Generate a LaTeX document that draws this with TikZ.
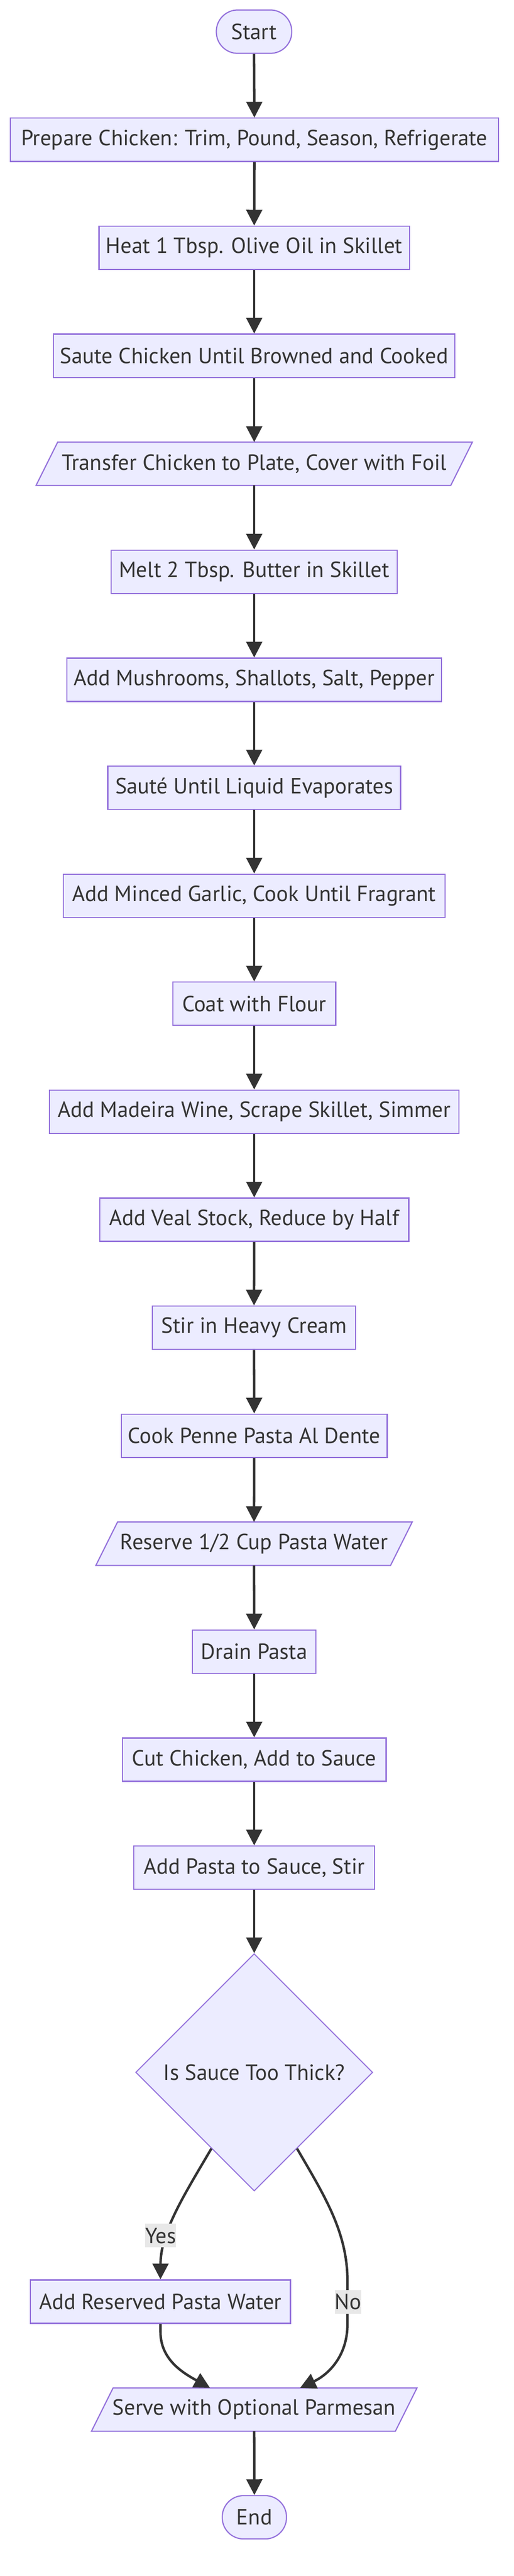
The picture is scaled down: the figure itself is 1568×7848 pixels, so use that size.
\documentclass[tikz,border=0pt]{standalone}
\usepackage{fontspec}
\setmainfont{PT Sans}
\usetikzlibrary{arrows.meta,shapes.geometric,calc}
\definecolor{nodefill}{HTML}{ECECFF}
\definecolor{nodeline}{HTML}{9370DB}
\definecolor{edgecol}{HTML}{333333}
\definecolor{txtcol}{HTML}{333333}
\definecolor{lblfill}{HTML}{E8E8E8}
\tikzset{
  stepbox/.style={draw=nodeline, fill=nodefill, line width=3.5pt, minimum height=132pt, inner sep=0pt, text=txtcol},
  pill/.style={stepbox, rounded corners=65pt},
  paraline/.style={draw=nodeline, fill=nodefill, line width=3.5pt},
  paratext/.style={minimum height=132pt, inner sep=0pt, text=txtcol},
  decision/.style={diamond, aspect=1, draw=nodeline, fill=nodefill, line width=3pt, minimum width=723pt, minimum height=723pt, inner sep=0pt, text=txtcol},
  edge/.style={draw=edgecol, line width=7.5pt, -{Triangle[length=48pt,width=48pt]}},
  lbl/.style={fill=lblfill, inner sep=0pt, text=txtcol, minimum height=72pt},
}
\newcommand\parabox[5]{%
  \path[paraline] ({#2-#4/2+33},{#3-66}) -- ({#2+#4/2+33},{#3-66}) -- ({#2+#4/2-33},{#3+66}) -- ({#2-#4/2-33},{#3+66}) -- cycle;
  \node[paratext, minimum width=#4pt] (#1) at (#2,#3) {#5};
}
\begin{document}
\begin{tikzpicture}[x=1pt, y=-1pt, font=\fontsize{67}{80}\selectfont]
\useasboundingbox[fill=white] (0,0) rectangle (1568,7848);
\node[pill, minimum width=230pt] (start) at (775,96.5) {Start};
\node[stepbox, minimum width=1490pt] (prep) at (776,426) {Prepare Chicken: Trim, Pound, Season, Refrigerate};
\node[stepbox, minimum width=947pt] (heat) at (775.5,755) {Heat 1 Tbsp. Olive Oil in Skillet};
\node[stepbox, minimum width=1225pt] (saute) at (775.5,1084) {Saute Chicken Until Browned and Cooked};
\parabox{transfer}{775.5}{1413}{1265}{Transfer Chicken to Plate, Cover with Foil}
\node[stepbox, minimum width=873pt] (melt) at (775.5,1742) {Melt 2 Tbsp. Butter in Skillet};
\node[stepbox, minimum width=1143pt] (mush) at (775.5,2071) {Add Mushrooms, Shallots, Salt, Pepper};
\node[stepbox, minimum width=893pt] (evap) at (775.5,2400) {Sauté Until Liquid Evaporates};
\node[stepbox, minimum width=1165pt] (garlic) at (775.5,2729) {Add Minced Garlic, Cook Until Fragrant};
\node[stepbox, minimum width=497pt] (flour) at (775.5,3058) {Coat with Flour};
\node[stepbox, minimum width=1249pt] (wine) at (775.5,3387) {Add Madeira Wine, Scrape Skillet, Simmer};
\node[stepbox, minimum width=943pt] (veal) at (775.5,3716) {Add Veal Stock, Reduce by Half};
\node[stepbox, minimum width=620pt] (cream) at (775,4045) {Stir in Heavy Cream};
\node[stepbox, minimum width=811pt] (penne) at (775.5,4374) {Cook Penne Pasta Al Dente};
\parabox{reserve}{775}{4703}{899}{Reserve 1/2 Cup Pasta Water}
\node[stepbox, minimum width=377pt] (drain) at (775.5,5032) {Drain Pasta};
\node[stepbox, minimum width=805pt] (cut) at (775.5,5361) {Cut Chicken, Add to Sauce};
\node[stepbox, minimum width=735pt] (addpasta) at (775.5,5690) {Add Pasta to Sauce, Stir};
\node[decision] (dia) at (775.5,6313.5) {Is Sauce Too Thick?};
\node[stepbox, minimum width=793pt] (water) at (489.5,7012) {Add Reserved Pasta Water};
\parabox{serve}{775.5}{7341}{927}{Serve with Optional Parmesan}
\node[pill, minimum width=196pt] (end) at (776,7669) {End};

\draw[edge] (start.south) -- (prep.north);
\draw[edge] (prep.south) -- (heat.north);
\draw[edge] (heat.south) -- (saute.north);
\draw[edge] (saute.south) -- (transfer.north);
\draw[edge] (transfer.south) -- (melt.north);
\draw[edge] (melt.south) -- (mush.north);
\draw[edge] (mush.south) -- (evap.north);
\draw[edge] (evap.south) -- (garlic.north);
\draw[edge] (garlic.south) -- (flour.north);
\draw[edge] (flour.south) -- (wine.north);
\draw[edge] (wine.south) -- (veal.north);
\draw[edge] (veal.south) -- (cream.north);
\draw[edge] (cream.south) -- (penne.north);
\draw[edge] (penne.south) -- (reserve.north);
\draw[edge] (reserve.south) -- (drain.north);
\draw[edge] (drain.south) -- (cut.north);
\draw[edge] (cut.south) -- (addpasta.north);
\draw[edge] (addpasta.south) -- (dia.north);
\draw[edge] ($(dia.south)!0.36!(dia.west)$) .. controls (560,6690) and (490,6800) .. (water.north);
\draw[edge] ($(dia.south)!0.36!(dia.east)$) .. controls (990,6690) and (1060,6800) .. (1060,6950) -- (1060,7080) .. controls (1060,7180) and (1000,7235) .. ($(serve.north)+(140,0)$);
\draw[edge] (water.south) -- ++(0,25) .. controls (490,7190) and (560,7230) .. ($(serve.north)+(-135,0)$);
\draw[edge] (serve.south) -- (end.north);
\node[lbl, minimum width=88pt] (yes) at (490,6811) {Yes};
\node[lbl, minimum width=74pt] (no) at (1062,7013) {No};
\end{tikzpicture}
\end{document}
